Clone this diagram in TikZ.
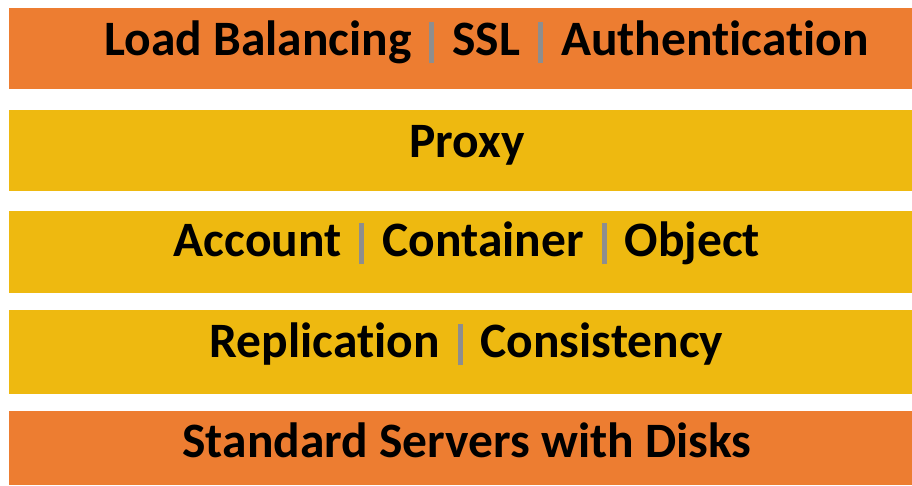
\documentclass[tikz,border=0pt]{standalone}
\usepackage{fontspec}
\setmainfont{Carlito}[Ligatures=NoCommon]
\definecolor{layerorange}{HTML}{ED7D31}
\definecolor{layergold}{HTML}{EEB910}
\definecolor{sepgray}{HTML}{8E8E8E}
% vertical gray divider between items on one layer
\newcommand{\layersep}{\hspace{18pt}{\color{sepgray}\rule[-8pt]{5pt}{41pt}}\hspace{18pt}}
\begin{document}
\begin{tikzpicture}[x=1pt,y=-1pt,
  layertext/.style={anchor=base, inner sep=0pt, font=\fontsize{49.5}{49.5}\bfseries}]
\useasboundingbox (0,0) rectangle (912,485);
% layer bands
\fill[layerorange] (9,8)   rectangle (912,89);
\fill[layergold]   (9,110) rectangle (912,191);
\fill[layergold]   (9,211) rectangle (912,293);
\fill[layergold]   (9,310) rectangle (912,394);
\fill[layerorange] (9,411) rectangle (912,485);
% layer labels
\node[layertext] (edge)    at (486.5,55) {Load Balancing\layersep SSL\layersep Authentication};
\node[layertext] (proxy)   at (467,157)  {Proxy};
\node[layertext] (storage) at (467,256)  {Account\layersep Container\layersep Object};
\node[layertext] (repl)    at (466.5,357) {Replication\layersep Consistency};
\node[layertext] (servers) at (467,457)  {Standard Servers with Disks};
\end{tikzpicture}
\end{document}
